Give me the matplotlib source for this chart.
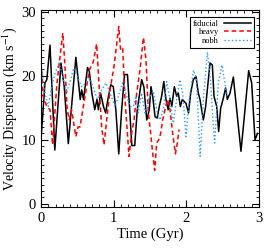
import matplotlib
matplotlib.use("Agg")
import matplotlib.pyplot as plt
from matplotlib.ticker import MultipleLocator

plt.rcParams['font.family'] = ['Liberation Serif', 'DejaVu Serif']
plt.rcParams['mathtext.fontset'] = 'stix'

# fiducial run (black solid)
t_fid = [0.0, 0.055, 0.08, 0.124, 0.19, 0.275, 0.32, 0.376, 0.48, 0.54, 0.56, 0.585,
         0.64, 0.665, 0.70, 0.74, 0.77, 0.79, 0.82, 0.86, 0.89, 0.92, 0.96, 0.995,
         1.03, 1.07, 1.11, 1.15, 1.19, 1.215, 1.25, 1.29, 1.325, 1.385, 1.417, 1.455,
         1.49, 1.514, 1.537, 1.57, 1.60, 1.628, 1.66, 1.69, 1.72, 1.75, 1.775, 1.80,
         1.835, 1.867, 1.89, 1.917, 1.945, 1.995, 2.03, 2.06, 2.096, 2.133, 2.165,
         2.188, 2.234, 2.266, 2.326, 2.358, 2.381, 2.418, 2.445, 2.472, 2.509, 2.54,
         2.564, 2.601, 2.647, 2.693, 2.752, 2.807, 2.858, 2.899, 2.945, 2.98]
v_fid = [10.0, 18.9, 19.4, 24.8, 8.4, 22.0, 18.3, 9.4, 22.9, 16.3, 17.8, 16.3,
         21.3, 20.7, 17.3, 14.7, 16.3, 14.7, 17.3, 15.2, 14.2, 16.3, 18.6, 18.3,
         14.7, 7.8, 14.7, 20.2, 20.2, 15.7, 9.1, 9.1, 14.7, 19.4, 18.2, 13.1,
         14.7, 18.3, 16.8, 13.6, 13.4, 15.2, 16.8, 19.1, 16.3, 14.7, 16.5, 15.2,
         18.3, 16.8, 17.3, 15.2, 16.3, 15.7, 14.2, 17.3, 19.4, 19.9, 17.3,
         16.3, 13.1, 15.2, 22.0, 21.7, 16.8, 15.2, 11.3, 14.9, 16.5, 18.1,
         16.3, 17.3, 19.8, 14.7, 8.2, 14.7, 20.8, 18.9, 10.0, 11.0]

# heavy run (red dashed)
t_hvy = [0.01, 0.03, 0.08, 0.124, 0.16, 0.19, 0.22, 0.30, 0.33, 0.36, 0.39, 0.42,
         0.48, 0.51, 0.537, 0.583, 0.62, 0.665, 0.72, 0.766, 0.80, 0.835, 0.867,
         0.904, 0.95, 1.005, 1.07, 1.096, 1.124, 1.156, 1.211, 1.248, 1.28, 1.317,
         1.362, 1.41, 1.445, 1.477, 1.509, 1.537, 1.564, 1.592, 1.62, 1.647, 1.674,
         1.706, 1.739, 1.775, 1.812, 1.85, 1.876, 1.9]
v_hvy = [20.7, 16.8, 15.2, 14.7, 9.2, 14.2, 18.9, 26.7, 21.5, 14.7, 13.1, 14.7,
         10.5, 12.0, 12.0, 15.2, 17.8, 20.9, 22.2, 25.0, 18.3, 12.0, 9.2,
         13.1, 17.8, 21.5, 27.7, 24.0, 24.3, 16.3, 7.4, 11.0, 13.1, 17.3,
         20.9, 26.0, 22.5, 14.2, 11.0, 7.9, 5.2, 9.5, 10.0, 11.0, 13.1,
         14.7, 16.3, 14.7, 11.0, 7.8, 9.5, 11.6]

# no black hole run (blue dotted)
t_nbh = [0.01, 0.055, 0.1, 0.147, 0.193, 0.25, 0.307, 0.353, 0.408, 0.45, 0.5,
         0.56, 0.619, 0.674, 0.72, 0.775, 0.835, 0.894, 0.95, 1.02, 1.078, 1.124,
         1.18, 1.225, 1.271, 1.307, 1.339, 1.385, 1.431, 1.477, 1.546, 1.592,
         1.638, 1.683, 1.73, 1.775, 1.82, 1.867, 1.91, 1.95, 1.996, 2.04, 2.1,
         2.14, 2.19, 2.234, 2.29, 2.335, 2.372, 2.39, 2.44, 2.49, 2.523, 2.555]
v_nbh = [20.9, 17.3, 15.2, 18.3, 20.4, 22.0, 19.4, 17.3, 19.4, 21.2, 19.9,
         18.3, 18.9, 19.6, 18.1, 16.3, 17.8, 18.9, 17.3, 15.2, 17.3, 18.9,
         16.8, 15.2, 15.2, 16.8, 14.2, 17.3, 14.2, 16.3, 17.6, 14.7,
         13.1, 14.7, 19.1, 16.3, 12.6, 16.3, 19.4, 17.3, 10.5, 16.3, 20.9,
         19.4, 7.4, 16.3, 23.7, 18.9, 12.1, 9.5, 18.9, 21.7, 19.4, 16.8]

fig = plt.figure(figsize=(2.77, 2.49), dpi=100)
ax = fig.add_axes([0.148, 0.169, 0.787, 0.791])

ax.plot(t_fid, v_fid, color='black', lw=1.1, label='fiducial')
ax.plot(t_hvy, v_hvy, color='red', lw=1.1, ls=(0, (3, 2)), label='heavy')
ax.plot(t_nbh, v_nbh, color='#3399ff', lw=1.0, ls=':', label='nobh')

ax.set_xlim(0, 3)
ax.set_ylim(-0.5, 30.3)
ax.xaxis.set_major_locator(MultipleLocator(1))
ax.xaxis.set_minor_locator(MultipleLocator(0.1))
ax.yaxis.set_major_locator(MultipleLocator(10))
ax.yaxis.set_minor_locator(MultipleLocator(1))
ax.tick_params(which='both', direction='in', top=True, right=True, labelsize=10.5)
ax.tick_params(which='major', length=5, width=0.8)
ax.tick_params(which='minor', length=2.5, width=0.6)

ax.set_xlabel('Time (Gyr)', fontsize=10.5, labelpad=2)
ax.set_ylabel('Velocity Dispersion (km s$^{-1}$)', fontsize=10, labelpad=1.5)

leg = ax.legend(loc='upper right', fontsize=6, markerfirst=False, fancybox=False,
                edgecolor='black', framealpha=1, handlelength=3.2,
                borderpad=0.35, labelspacing=0.05, handletextpad=0.6,
                borderaxespad=0, bbox_to_anchor=(0.975, 0.965))
leg.get_frame().set_linewidth(0.8)

fig.savefig('out.png', dpi=100)
